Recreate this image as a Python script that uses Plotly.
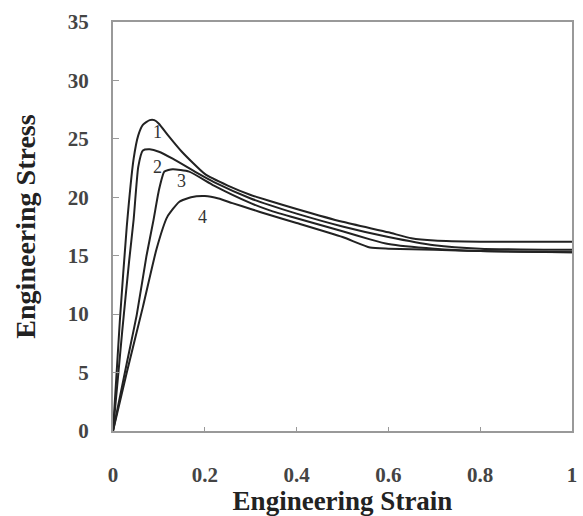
import plotly.graph_objects as go

# Curve 1 (highest peak)
strain_1 = [0, 0.015, 0.03, 0.045, 0.055, 0.065, 0.08, 0.09, 0.10, 0.12, 0.15, 0.20, 0.25, 0.30, 0.34, 0.40, 0.50, 0.60, 0.65, 0.70, 0.80, 1.00]
stress_1 = [0, 9.5, 17.5, 23.3, 25.3, 26.2, 26.6, 26.6, 26.3, 25.3, 23.9, 22.0, 21.0, 20.2, 19.7, 19.0, 17.9, 17.0, 16.5, 16.3, 16.2, 16.2]

# Curve 2 (plateau ~24)
strain_2 = [0, 0.02, 0.035, 0.045, 0.055, 0.065, 0.08, 0.10, 0.13, 0.187, 0.22, 0.30, 0.34, 0.40, 0.50, 0.60, 0.70, 0.80, 1.00]
stress_2 = [0, 8.5, 14.5, 18.1, 22.6, 24.0, 24.1, 23.9, 23.3, 22.0, 21.3, 19.9, 19.35, 18.6, 17.5, 16.6, 15.9, 15.6, 15.5]

# Curve 3 (peak ~22)
strain_3 = [0, 0.03, 0.052, 0.073, 0.088, 0.10, 0.112, 0.13, 0.166, 0.22, 0.30, 0.34, 0.40, 0.50, 0.56, 0.60, 0.70, 0.80, 1.00]
stress_3 = [0, 5.8, 10.0, 15.0, 18.0, 20.6, 22.2, 22.4, 22.2, 21.0, 19.5, 18.9, 18.2, 17.1, 16.4, 16.0, 15.6, 15.4, 15.3]

# Curve 4 (peak ~20)
strain_4 = [0, 0.03, 0.065, 0.095, 0.118, 0.144, 0.17, 0.20, 0.23, 0.26, 0.30, 0.34, 0.40, 0.50, 0.56, 0.60, 0.70, 0.80, 1.00]
stress_4 = [0, 5.0, 10.6, 15.6, 18.3, 19.6, 20.0, 20.1, 19.9, 19.5, 19.0, 18.5, 17.8, 16.6, 15.7, 15.6, 15.5, 15.4, 15.3]

curve_labels = ["1", "2", "3", "4"]
label_strain = [0.097, 0.097, 0.149, 0.194]
label_stress = [25.6, 22.6, 21.4, 18.3]

x_ticks = [0, 0.2, 0.4, 0.6, 0.8, 1]
x_tick_text = ["0", "0.2", "0.4", "0.6", "0.8", "1"]
y_ticks = [0, 5, 10, 15, 20, 25, 30, 35]

fig = go.Figure()
for sx, sy in [(strain_1, stress_1), (strain_2, stress_2), (strain_3, stress_3), (strain_4, stress_4)]:
    fig.add_trace(go.Scatter(x=sx, y=sy, mode="lines",
                             line=dict(color="#222222", width=2, shape="spline", smoothing=0.5),
                             showlegend=False, hoverinfo="skip"))

for t, lx, ly in zip(curve_labels, label_strain, label_stress):
    fig.add_annotation(x=lx, y=ly, text=t, showarrow=False,
                       font=dict(family="Liberation Serif", size=18, color="#333333"))

font_family = "Liberation Serif"
fig.update_layout(
    width=583, height=516,
    margin=dict(l=113, r=6, t=22, b=83),
    paper_bgcolor="white", plot_bgcolor="white",
    font=dict(family=font_family, color="#333333"),
    xaxis=dict(range=[0, 1], tickvals=x_ticks, ticktext=x_tick_text,
               ticks="inside", ticklen=4, tickcolor="#999999",
               showline=True, linecolor="#999999", linewidth=2, mirror=True,
               showgrid=False, zeroline=False,
               tickfont=dict(family=font_family, size=21, color="#444444", weight="bold"),
               ticklabelstandoff=24,
               title=dict(text="<b>Engineering Strain</b>", standoff=4,
                          font=dict(family=font_family, size=27, color="#222222"))),
    yaxis=dict(range=[0, 35], tickvals=y_ticks,
               ticks="inside", ticklen=6, tickcolor="#999999",
               showline=True, linecolor="#999999", linewidth=2, mirror=True,
               showgrid=False, zeroline=False,
               tickfont=dict(family=font_family, size=21, color="#444444", weight="bold"),
               ticklabelstandoff=18,
               title=dict(text="<b>Engineering Stress</b>", standoff=24,
                          font=dict(family=font_family, size=28, color="#222222"))),
)

fig.write_html("out.html")
